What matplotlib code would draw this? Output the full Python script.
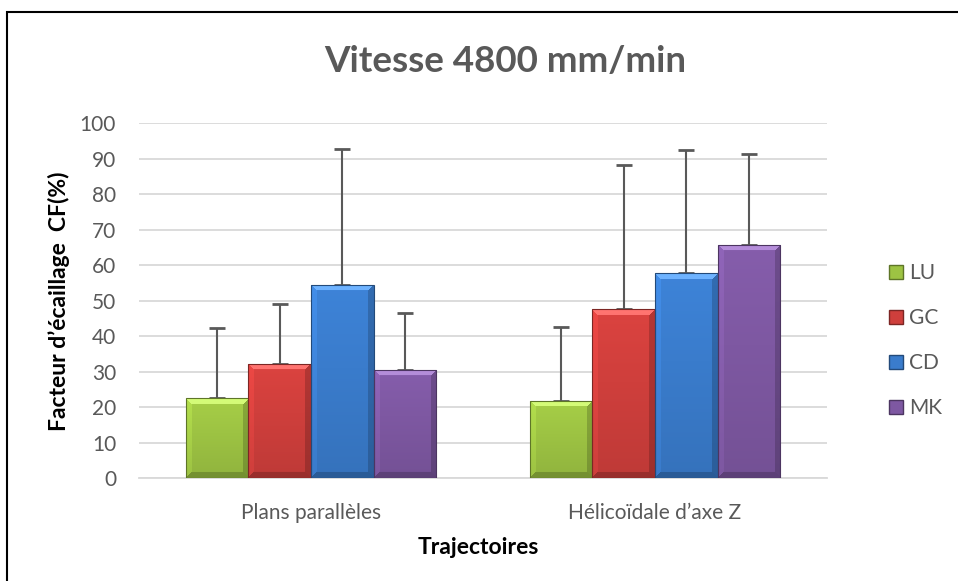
import numpy as np
import matplotlib
matplotlib.use("Agg")
import matplotlib.pyplot as plt
from matplotlib.patches import Patch, Rectangle
from matplotlib.colors import to_rgb

plt.rcParams['font.family'] = ['Lato', 'DejaVu Sans']

categories = ["Plans parallèles", "Hélicoïdale d\u2019axe Z"]
series = ["LU", "GC", "CD", "MK"]
values = {
    "LU": [22.5, 21.9],
    "GC": [32.2, 47.6],
    "CD": [54.5, 57.7],
    "MK": [30.5, 65.7],
}
err_top = {
    "LU": [42.3, 42.5],
    "GC": [49.0, 88.3],
    "CD": [92.8, 92.5],
    "MK": [46.5, 91.4],
}
colors = {"LU": "#9dc343", "GC": "#cf3f3c", "CD": "#3a7ccc", "MK": "#7e58a2"}
yticks = [0, 10, 20, 30, 40, 50, 60, 70, 80, 90, 100]

W, H, DPI = 958, 581, 100
fig = plt.figure(figsize=(W / DPI, H / DPI), dpi=DPI)
ax = fig.add_axes([139 / W, 1 - 478.3 / H, (827 - 139) / W, (478.3 - 123.3) / H])

n = len(series)
gap = 1.5
bw = 1.0 / (n + gap)
x = np.arange(len(categories))
gray = "#595959"

bars_all = []
for i, s in enumerate(series):
    pos = x - (n * bw) / 2 + bw * (i + 0.5)
    vals = np.array(values[s])
    yerr = np.array(err_top[s]) - vals
    bars = ax.bar(pos, vals, width=bw, color=colors[s], edgecolor="none", zorder=3)
    ax.errorbar(pos, vals, yerr=[np.zeros_like(yerr), yerr], fmt="none",
                ecolor=gray, elinewidth=1.5, capsize=5.5, capthick=2.0, zorder=2)
    bars_all.append((bars, colors[s]))

ax.set_xlim(-0.5, 1.5)
ax.set_ylim(0, 100)
ax.set_yticks(yticks)
ax.set_xticks(x)
ax.set_xticklabels(categories)
ax.tick_params(axis="both", length=0, colors=gray, labelsize=15)
ax.tick_params(axis="y", pad=16.5)
ax.tick_params(axis="x", pad=17.5)
ax.grid(axis="y", color="#d9d9d9", linewidth=1.3, zorder=0)
ax.set_axisbelow(True)
for sp in ["top", "right", "left"]:
    ax.spines[sp].set_visible(False)
ax.spines["bottom"].set_color("#d9d9d9")
ax.spines["bottom"].set_linewidth(1.3)

# bevel shading drawn inside each bar patch
fig.canvas.draw()
def bevel_image(rgb, wpx, hpx, b=6):
    wpx = max(int(round(wpx)), 2)
    hpx = max(int(round(hpx)), 2)
    yy, xx = np.mgrid[0:hpx, 0:wpx]
    dt = yy + 0.5
    db = hpx - yy - 0.5
    dl = xx + 0.5
    dr = wpx - xx - 0.5
    d = np.stack([dt, db, dl, dr])
    which = np.argmin(d, axis=0)
    dmin = np.min(d, axis=0)
    base = np.array(rgb)
    fac = np.ones((hpx, wpx))
    fac *= 1.06 - 0.14 * (yy / hpx)
    shade = np.array([1.22, 0.80, 1.08, 0.82])
    inb = dmin < b
    fac[inb] *= shade[which[inb]]
    img = np.clip(base[None, None, :] * fac[..., None], 0, 1)
    top = inb & (which == 0)
    img[top] = img[top] * 0.8 + 0.2
    return img

for bars, c in bars_all:
    rgb = to_rgb(c)
    for p in bars:
        bb = p.get_window_extent()
        img = bevel_image(rgb, bb.width, bb.height)
        xx0, yy0 = p.get_x(), p.get_y()
        im = ax.imshow(img, extent=[xx0, xx0 + p.get_width(), yy0, yy0 + p.get_height()],
                       aspect="auto", origin="upper", zorder=3, interpolation="bilinear")
        im.set_clip_path(p)
        edge = Rectangle((xx0, yy0), p.get_width(), p.get_height(), fill=False,
                         edgecolor=tuple(np.array(rgb) * 0.6), linewidth=0.8, zorder=4)
        ax.add_patch(edge)
ax.set_xlim(-0.5, 1.5)
ax.set_ylim(0, 100)

fig.text(59 / W, 1 - 301 / H, "Facteur d\u2019écaillage  CF(%)", rotation=90,
         ha="center", va="center", fontsize=16.5, fontweight="bold", color="black")
fig.text(478 / W, 1 - 548 / H, "Trajectoires", ha="center", va="center",
         fontsize=16.5, fontweight="bold", color="black")
fig.text(505 / W, 1 - 62 / H, "Vitesse 4800 mm/min", ha="center", va="center",
         fontsize=26.5, fontweight="bold", color=gray)

handles = [Patch(facecolor=colors[s], edgecolor=tuple(np.array(to_rgb(colors[s])) * 0.6))
           for s in series]
leg = fig.legend(handles, series, loc="upper left",
                 bbox_to_anchor=(889 / W, 1 - 263 / H), frameon=False,
                 fontsize=15, labelcolor=gray, handlelength=0.68, handleheight=0.68,
                 handletextpad=0.3, labelspacing=1.2, borderpad=0, borderaxespad=0)

fig.patches.append(Rectangle((7 / W, -0.05), 1.2, 1 - 12 / H + 0.05, transform=fig.transFigure,
                             fill=False, edgecolor="black", linewidth=1.5))

fig.savefig("out.png", dpi=DPI)
